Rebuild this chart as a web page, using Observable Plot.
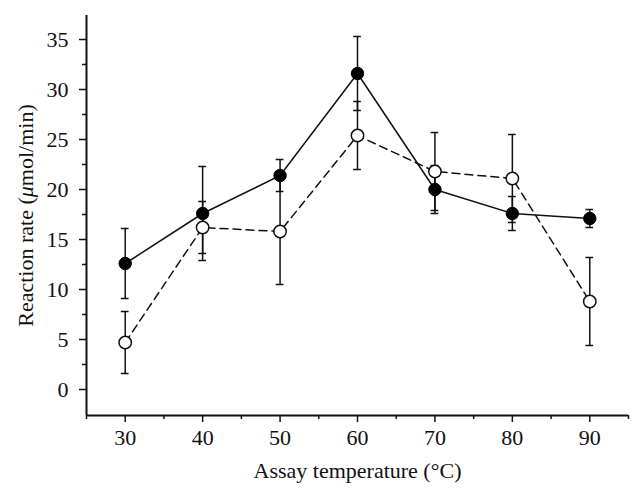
<!DOCTYPE html>
<html>
<head>
<meta charset="utf-8">
<script src="https://cdn.jsdelivr.net/npm/d3@7"></script>
<script src="https://cdn.jsdelivr.net/npm/@observablehq/plot@0.6"></script>
<style>
  html, body { margin: 0; padding: 0; background: #fff; }
  #chart svg { display: block; }
</style>
</head>
<body>
<div id="chart"></div>
<script>
// Assay temperatures (°C)
const temperatures = [30, 40, 50, 60, 70, 80, 90];
// Filled circles, solid line
const filledRate = [12.6, 17.6, 21.4, 31.6, 20.0, 17.6, 17.1];
const filledErr  = [3.5, 4.7, 1.6, 3.7, 2.4, 1.7, 0.9];
// Open circles, dashed line
const openRate = [4.7, 16.2, 15.8, 25.4, 21.8, 21.1, 8.8];
const openErr  = [3.1, 2.6, 5.3, 3.4, 3.9, 4.4, 4.4];
// Axis ticks
const xTicks = [30, 40, 50, 60, 70, 80, 90];
const xMinorTicks = [25, 35, 45, 55, 65, 75, 85, 95];
const yTicks = [0, 5, 10, 15, 20, 25, 30, 35];
const yMinorTicks = [2.5, 7.5, 12.5, 17.5, 22.5, 27.5, 32.5];
const xDomain = [25, 95];
const yDomain = [-2.6, 37.4];

const filled = temperatures.map((t, i) => ({t, v: filledRate[i], e: filledErr[i]}));
const open = temperatures.map((t, i) => ({t, v: openRate[i], e: openErr[i]}));
const capHalf = 0.5;

const font = "'Liberation Serif', 'Times New Roman', serif";
const fs = 22;

const errMarks = (data) => [
  Plot.ruleX(data, {x: "t", y1: d => d.v - d.e, y2: d => d.v + d.e, stroke: "#111", strokeWidth: 1.5}),
  Plot.ruleY(data, {y: d => d.v + d.e, x1: d => d.t - capHalf, x2: d => d.t + capHalf, stroke: "#111", strokeWidth: 1.5}),
  Plot.ruleY(data, {y: d => d.v - d.e, x1: d => d.t - capHalf, x2: d => d.t + capHalf, stroke: "#111", strokeWidth: 1.5})
];

const chart = Plot.plot({
  width: 643,
  height: 496,
  marginLeft: 86,
  marginRight: 15,
  marginTop: 15,
  marginBottom: 81,
  style: {fontFamily: font, fontSize: fs + "px", color: "#111", background: "#fff"},
  x: {domain: xDomain},
  y: {domain: yDomain},
  marks: [
    Plot.axisX(xMinorTicks, {tickSize: 4, tickFormat: () => "", strokeWidth: 1.5, label: null}),
    Plot.axisX(xTicks, {tickSize: 7, tickPadding: 7, strokeWidth: 1.5, fontSize: fs,
      label: "Assay temperature (°C)", labelAnchor: "center", labelArrow: "none", labelOffset: 62}),
    Plot.axisY(yMinorTicks, {tickSize: 4, tickFormat: () => "", strokeWidth: 1.5, label: null}),
    Plot.axisY(yTicks, {tickSize: 7, tickPadding: 11, strokeWidth: 1.5, fontSize: fs,
      label: "Reaction rate (μmol/min)", labelAnchor: "center", labelArrow: "none", labelOffset: 69}),
    Plot.ruleX([xDomain[0]], {stroke: "#111", strokeWidth: 2}),
    Plot.ruleY([yDomain[0]], {stroke: "#111", strokeWidth: 2}),
    Plot.line(filled, {x: "t", y: "v", stroke: "#111", strokeWidth: 1.5}),
    Plot.line(open, {x: "t", y: "v", stroke: "#111", strokeWidth: 1.5, strokeDasharray: "8,5"}),
    ...errMarks(filled),
    ...errMarks(open),
    Plot.dot(filled, {x: "t", y: "v", r: 6.2, fill: "#000", stroke: "#000", strokeWidth: 1}),
    Plot.dot(open, {x: "t", y: "v", r: 6.2, fill: "#fff", stroke: "#111", strokeWidth: 1.5})
  ]
});

document.getElementById("chart").appendChild(chart);

// italicise the μ in the y-axis label
d3.select(chart).selectAll("text").each(function() {
  const t = this.textContent;
  if (t === "Reaction rate (μmol/min)") {
    const sel = d3.select(this);
    sel.text(null);
    sel.append("tspan").text("Reaction rate (");
    sel.append("tspan").attr("font-style", "italic").text("μ");
    sel.append("tspan").text("mol/min)");
  }
});
</script>
</body>
</html>
